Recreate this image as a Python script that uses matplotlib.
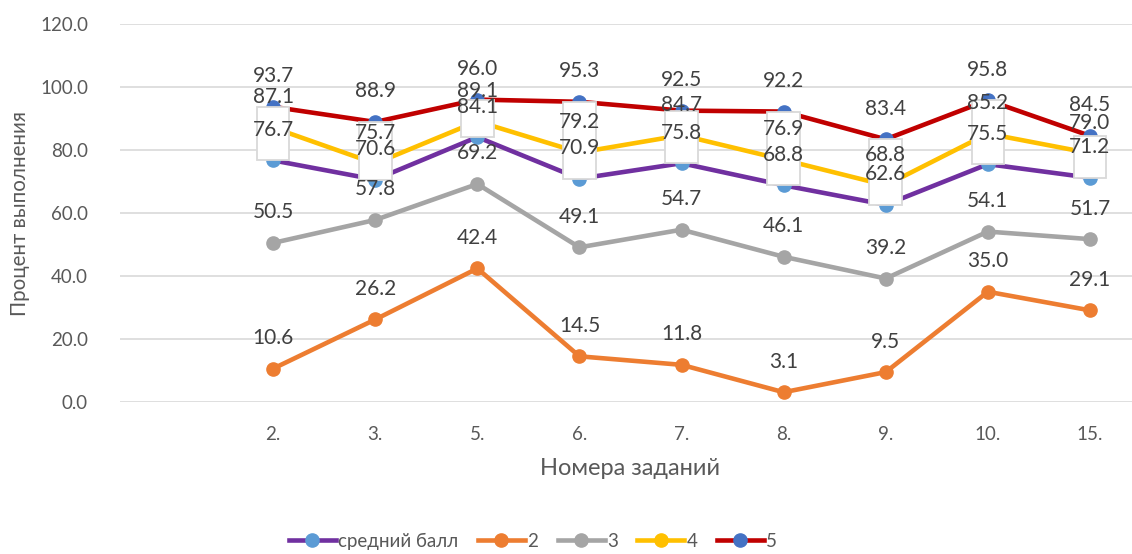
import numpy as np
import matplotlib.pyplot as plt
from matplotlib.transforms import ScaledTranslation

plt.rcParams['font.family'] = ['Lato', 'DejaVu Sans']

categories = ['', '2.', '3.', '5.', '6.', '7.', '8.', '9.', '10.', '15.']
avg = [76.7, 70.6, 84.1, 70.9, 75.8, 68.8, 62.6, 75.5, 71.2]
g2 = [10.6, 26.2, 42.4, 14.5, 11.8, 3.1, 9.5, 35.0, 29.1]
g3 = [50.5, 57.8, 69.2, 49.1, 54.7, 46.1, 39.2, 54.1, 51.7]
g4 = [87.1, 75.7, 89.1, 79.2, 84.7, 76.9, 68.8, 85.2, 79.0]
g5 = [93.7, 88.9, 96.0, 95.3, 92.5, 92.2, 83.4, 95.8, 84.5]

series = [
    ('средний балл', avg, '#7030A0', '#5B9BD5'),
    ('2', g2, '#ED7D31', '#ED7D31'),
    ('3', g3, '#A5A5A5', '#A5A5A5'),
    ('4', g4, '#FFC000', '#FFC000'),
    ('5', g5, '#C00000', '#4472C4'),
]

W, H = 1132, 554
fig = plt.figure(figsize=(W / 100, H / 100), dpi=100)
ax = fig.add_axes([120 / W, 152 / H, 1021 / W, 378 / H])

x = np.arange(1, len(categories))

for name, vals, lc, mc in series:
    ax.plot(x, vals, color=lc, lw=3.3, marker='o', ms=9.5,
            markerfacecolor=mc, markeredgecolor=mc, label=name, zorder=2)

# up/down bars between first and last series
ax.bar(x, np.array(g5) - np.array(avg), bottom=avg, width=0.32,
       color='white', edgecolor='#D9D9D9', lw=1.3, zorder=3)

for name, vals, lc, mc in series:
    for xi, v in zip(x, vals):
        ax.annotate(f'{v:.1f}', (xi, v), xytext=(0, 22), textcoords='offset points',
                    ha='center', va='center', fontsize=15, color='#404040', zorder=5)

ax.set_xlim(-0.5, len(categories) - 0.5)
ax.set_ylim(0, 120)
ax.set_yticks(np.arange(0, 121, 20))
ax.set_yticklabels([f'{v:.1f}' for v in np.arange(0, 121, 20)])
ax.set_xticks(np.arange(len(categories)))
ax.set_xticklabels(categories)
off = ScaledTranslation(-0.17, 0, fig.dpi_scale_trans)
for lab in ax.get_xticklabels():
    lab.set_transform(lab.get_transform() + off)

ax.grid(axis='y', color='#D9D9D9', lw=1.2)
ax.set_axisbelow(True)
for s in ax.spines.values():
    s.set_visible(False)
ax.tick_params(axis='both', length=0, labelsize=13.5, colors='#595959')
ax.tick_params(axis='y', pad=23)
ax.tick_params(axis='x', pad=17)

ax.set_ylabel('Процент выполнения', fontsize=14.8, color='#595959', labelpad=7)
ax.set_xlabel('Номера заданий', fontsize=17, color='#595959', labelpad=11)

fig.legend(loc='center', bbox_to_anchor=(533 / W, 1 - 541 / H), ncol=5, frameon=False,
           fontsize=13.5, handlelength=2.5, handletextpad=0.12, columnspacing=1.05,
           labelcolor='#595959')

fig.savefig('out.png', dpi=100)
